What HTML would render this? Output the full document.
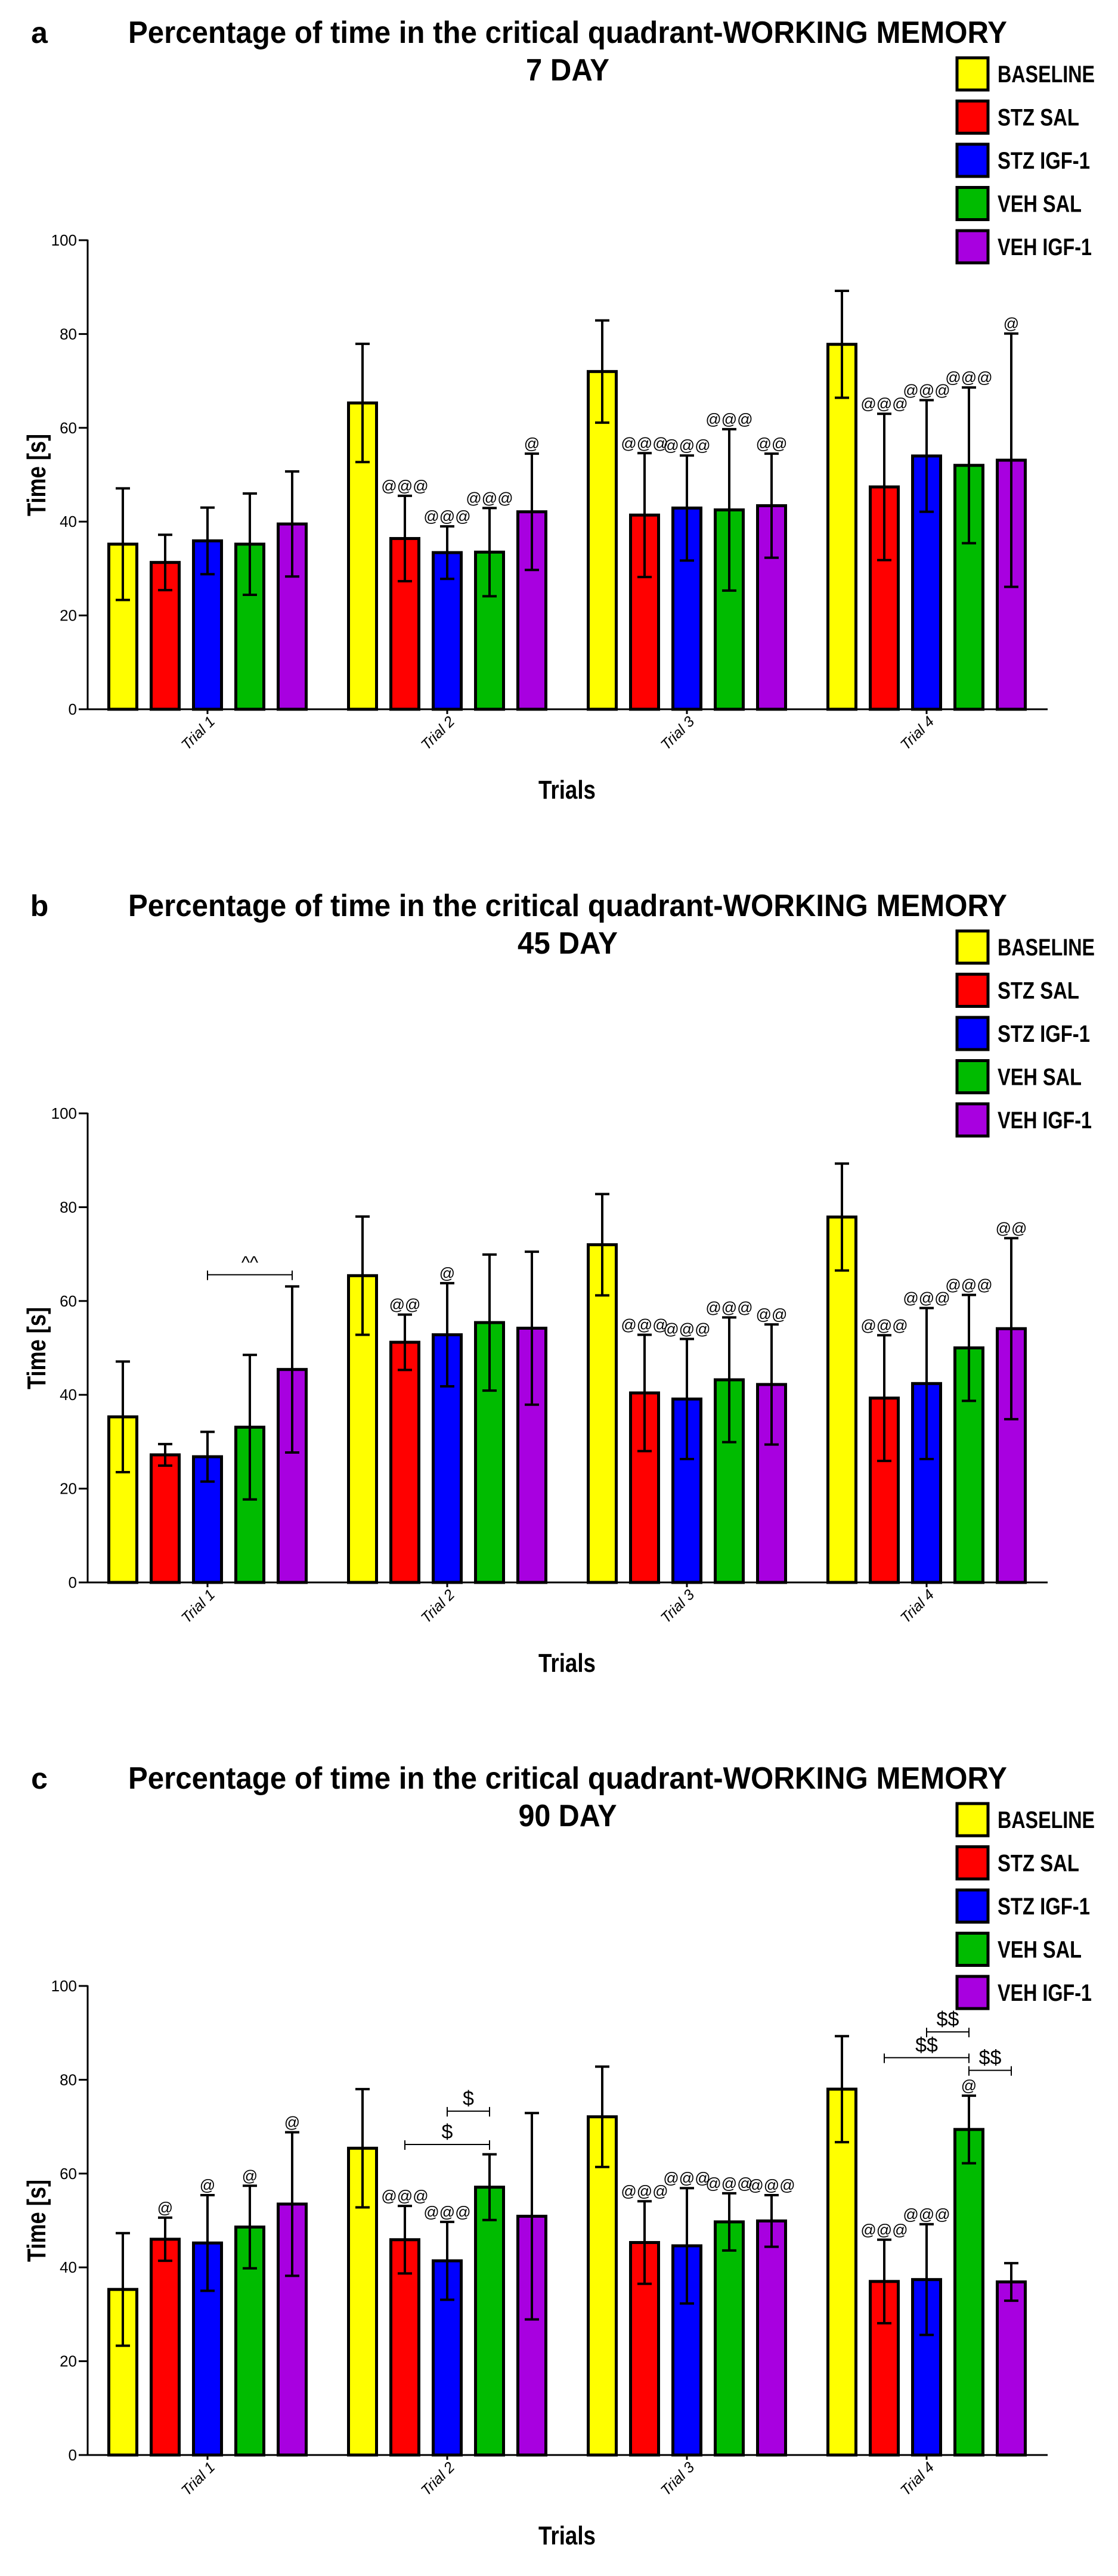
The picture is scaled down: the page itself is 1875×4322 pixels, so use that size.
<!DOCTYPE html>
<html><head><meta charset="utf-8"><style>
html,body{margin:0;padding:0;background:#fff;}
svg{display:block;}
text{font-family:"Liberation Sans",sans-serif;}
</style></head><body>
<svg id="fig" width="1875" height="4322" viewBox="0 0 1875 4322" xmlns="http://www.w3.org/2000/svg"></svg>
<script>
const seriesNames = ["BASELINE","STZ SAL","STZ IGF-1","VEH SAL","VEH IGF-1"];
const seriesColors = ["#ffff00","#ff0000","#0000ff","#00bb00","#a800e0"];
const trialLabels = ["Trial 1","Trial 2","Trial 3","Trial 4"];
const yTicks = [0,20,40,60,80,100];
const panelLetters = ["a","b","c"];
const panelDays = ["7 DAY","45 DAY","90 DAY"];
// means[trial][series]
const meansA = [[35.2,31.3,35.9,35.2,39.5],[65.3,36.4,33.4,33.5,42.1],[72.0,41.4,42.9,42.5,43.4],[77.8,47.4,54.0,52.0,53.1]];
const errA   = [[11.9,5.9,7.1,10.8,11.2],[12.6,9.1,5.6,9.4,12.4],[10.9,13.2,11.2,17.2,11.1],[11.4,15.6,11.9,16.6,27.0]];
const sigA   = [["","","","",""],["","@@@","@@@","@@@","@"],["","@@@","@@@","@@@","@@"],["","@@@","@@@","@@@","@"]];
const meansB = [[35.3,27.2,26.8,33.1,45.4],[65.4,51.2,52.8,55.4,54.2],[72.0,40.4,39.1,43.2,42.2],[77.9,39.3,42.4,50.0,54.1]];
const errB   = [[11.8,2.3,5.3,15.4,17.7],[12.6,5.9,11.0,14.5,16.3],[10.8,12.4,12.8,13.3,12.8],[11.4,13.4,16.1,11.3,19.3]];
const sigB   = [["","","","",""],["","@@","@","",""],["","@@@","@@@","@@@","@@"],["","@@@","@@@","@@@","@@"]];
const meansC = [[35.3,46.0,45.2,48.6,53.5],[65.4,45.9,41.4,57.1,50.9],[72.1,45.3,44.6,49.7,49.9],[78.0,37.0,37.4,69.4,36.9]];
const errC   = [[12.0,4.6,10.2,8.8,15.3],[12.6,7.2,8.3,7.0,22.0],[10.7,8.8,12.3,6.1,5.5],[11.3,8.9,11.8,7.2,4.0]];
const sigC   = [["","@","@","@","@"],["","@@@","@@@","",""],["","@@@","@@@","@@@","@@@"],["","@@@","@@@","@",""]];
// brackets: [trial, fromSeries, toSeries, yValue, label]
const bracketsA = [];
const bracketsB = [[0,2,4,65.6,"^^"]];
const bracketsC = [[1,1,3,66.2,"$"],[1,2,3,73.3,"$"],[3,1,3,84.7,"$$"],[3,2,3,90.2,"$$"],[3,3,4,82.0,"$$"]];

const allMeans=[meansA,meansB,meansC], allErr=[errA,errB,errC], allSig=[sigA,sigB,sigC], allBr=[bracketsA,bracketsB,bracketsC];
const NS="http://www.w3.org/2000/svg";
const svg=document.getElementById('fig');
function el(tag,attrs,parent,txt){const e=document.createElementNS(NS,tag);for(const k in attrs)e.setAttribute(k,attrs[k]);if(txt!==undefined)e.textContent=txt;parent.appendChild(e);return e;}
const offsets=[0,1465,2929];
const X0=147, X1=1757;
function cx(t,s){return 348+402*t+71*(s-2);}
panelLetters.forEach((L,p)=>{
  const off=offsets[p];
  const yS=v=>off+1190-v*7.87;
  const g=el('g',{},svg);
  
  
  let t=el('text',{x:66,y:off+72,'font-size':50,'font-weight':'bold','text-anchor':'middle'},g,L);
  
  
  t=el('text',{x:215,y:off+72,'font-size':52,'font-weight':'bold',textLength:1474,lengthAdjust:'spacingAndGlyphs'},g,'Percentage of time in the critical quadrant-WORKING MEMORY');
  
  
  const dw=[140,168,165][p];
  t=el('text',{x:952-dw/2,y:off+135,'font-size':52,'font-weight':'bold',textLength:dw,lengthAdjust:'spacingAndGlyphs'},g,panelDays[p]);
  
  
  // legend
  const lw=[163,137,155,141,158];
  seriesNames.forEach((n,i)=>{
    const cy=off+124+72.5*i;
    const lg=el('g',{},g);
    
    
    el('rect',{x:1605,y:cy-27,width:52,height:54,fill:seriesColors[i],stroke:'#000','stroke-width':5},lg);
    el('text',{x:1673,y:cy+14,'font-size':40,'font-weight':'bold',textLength:lw[i],lengthAdjust:'spacingAndGlyphs'},lg,n);
  });
  // axes
  let a=el('line',{x1:X0,y1:yS(0),x2:X1,y2:yS(0),stroke:'#000','stroke-width':3},g);
  
  
  a=el('line',{x1:X0,y1:yS(100)-1,x2:X0,y2:yS(0)+1,stroke:'#000','stroke-width':3},g);
  
  
  yTicks.forEach(v=>{
    el('line',{x1:X0-15,y1:yS(v),x2:X0,y2:yS(v),stroke:'#000','stroke-width':3},g);
    const tl=el('text',{x:X0-18,y:yS(v)+9,'font-size':26,'text-anchor':'end'},g,String(v));
    
    
  });
  t=el('text',{x:0,y:0,'font-size':44,'font-weight':'bold',textLength:138,lengthAdjust:'spacingAndGlyphs',transform:`translate(76,${off+866}) rotate(-90)`},g,'Time [s]');
  
  
  t=el('text',{x:903,y:off+1340,'font-size':44,'font-weight':'bold',textLength:96,lengthAdjust:'spacingAndGlyphs'},g,'Trials');
  
  
  trialLabels.forEach((lab,ti)=>{
    const x=cx(ti,2);
    el('line',{x1:x,y1:yS(0),x2:x,y2:yS(0)+8,stroke:'#000','stroke-width':3},g);
    const tl=el('text',{x:0,y:0,'font-size':25,'font-style':'italic','text-anchor':'end',transform:`translate(${x+14},${yS(0)+22}) rotate(-45)`},g,lab);
    
    
  });
  // bars
  const M=allMeans[p],E=allErr[p],S=allSig[p];
  M.forEach((row,ti)=>row.forEach((m,si)=>{
    const x=cx(ti,si);
    const b=el('rect',{x:x-23.5,y:yS(m),width:47,height:yS(0)-yS(m),fill:seriesColors[si],stroke:'#000','stroke-width':5},g);
    
    
    const top=yS(m+E[ti][si]), bot=yS(m-E[ti][si]);
    const eb=el('g',{stroke:'#000','stroke-width':4},g);
    
    
    el('line',{x1:x,y1:top,x2:x,y2:bot},eb);
    el('line',{x1:x-12,y1:top,x2:x+12,y2:top},eb);
    el('line',{x1:x-12,y1:bot,x2:x+12,y2:bot},eb);
    if(S[ti][si]){
      const st=el('text',{x:x,y:top-8,'font-size':26,'text-anchor':'middle'},g,S[ti][si]);
      
      
    }
  }));
  allBr[p].forEach(br=>{
    const x1=cx(br[0],br[1]),x2=cx(br[0],br[2]),y=yS(br[3]);
    const bg=el('g',{},g);
    
    
    el('line',{x1:x1,y1:y,x2:x2,y2:y,stroke:'#000','stroke-width':2},bg);
    el('line',{x1:x1,y1:y-7,x2:x1,y2:y+9,stroke:'#000','stroke-width':2},bg);
    el('line',{x1:x2,y1:y-7,x2:x2,y2:y+9,stroke:'#000','stroke-width':2},bg);
    el('text',{x:(x1+x2)/2,y:y-10,'font-size':br[4]==='^^'?30:34,'text-anchor':'middle'},bg,br[4]);
  });
});
</script>
</body></html>
